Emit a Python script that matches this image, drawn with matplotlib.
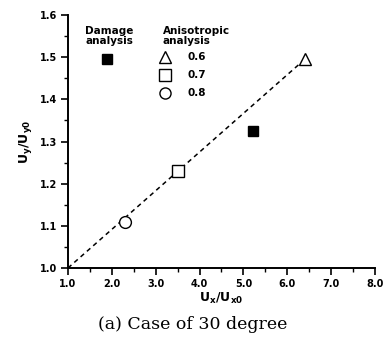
import matplotlib
matplotlib.use("Agg")
import matplotlib.pyplot as plt
from matplotlib.ticker import MultipleLocator, FormatStrFormatter

# data
ratios = ["0.6", "0.7", "0.8"]
aniso_x = [6.4, 3.5, 2.3]
aniso_y = [1.495, 1.23, 1.11]
aniso_marker = ["^", "s", "o"]
damage_x = [1.88, 5.21]
damage_y = [1.495, 1.325]
line_x = [1.0, 6.4]
line_y = [1.0, 1.495]

plt.rcParams['mathtext.fontset'] = 'dejavusans'
plt.rcParams['mathtext.default'] = 'bf'

fig = plt.figure(figsize=(3.85, 3.45), dpi=100)
ax = fig.add_axes([0.1766, 0.2232, 0.7974, 0.7333])

ax.plot(line_x, line_y, color="black", lw=1.1, ls=(0, (3, 2.5)))
for x, y, m in zip(aniso_x, aniso_y, aniso_marker):
    ax.plot(x, y, marker=m, ms=8.5, mfc="white", mec="black", mew=1.0, ls="none", zorder=3)
ax.plot(damage_x, damage_y, marker="s", ms=7.5, color="black", ls="none", zorder=3)

ax.set_xlim(1.0, 8.0)
ax.set_ylim(1.0, 1.6)
ax.xaxis.set_major_locator(MultipleLocator(1.0))
ax.xaxis.set_minor_locator(MultipleLocator(0.5))
ax.yaxis.set_major_locator(MultipleLocator(0.1))
ax.yaxis.set_minor_locator(MultipleLocator(0.05))
ax.xaxis.set_major_formatter(FormatStrFormatter("%.1f"))
ax.yaxis.set_major_formatter(FormatStrFormatter("%.1f"))
for s in ["top", "right"]:
    ax.spines[s].set_visible(False)
for s in ["left", "bottom"]:
    ax.spines[s].set_linewidth(1.4)
ax.tick_params(which="major", direction="out", length=5, width=1.2, labelsize=7, pad=3)
ax.tick_params(which="minor", direction="out", length=3, width=1.0)
for lab in ax.get_xticklabels() + ax.get_yticklabels():
    lab.set_fontweight("bold")

ax.set_xlabel(r"$U_x/U_{x0}$", fontsize=9, labelpad=1)
ax.set_ylabel(r"$U_y/U_{y0}$", fontsize=9, labelpad=4)

# legend block drawn by hand
ax.text(0.134, 0.917, "Damage\nanalysis", transform=ax.transAxes, ha="center", va="center",
        fontsize=7.5, fontweight="bold", linespacing=1.0)
ax.text(0.309, 0.917, "Anisotropic\nanalysis", transform=ax.transAxes, ha="left", va="center",
        fontsize=7.5, fontweight="bold", linespacing=1.0)
leg_y = [0.834, 0.763, 0.692]
for r, m, y in zip(ratios, aniso_marker, leg_y):
    ax.plot(0.316, y, marker=m, ms=8, mfc="white", mec="black", mew=1.0, transform=ax.transAxes,
            clip_on=False)
    ax.text(0.388, y, r, transform=ax.transAxes, ha="left", va="center", fontsize=7.5, fontweight="bold")

fig.text(0.5, 0.058, "(a) Case of 30 degree", ha="center", va="center", fontsize=12.5,
         family="DejaVu Serif")

fig.savefig("out.png", dpi=100)
